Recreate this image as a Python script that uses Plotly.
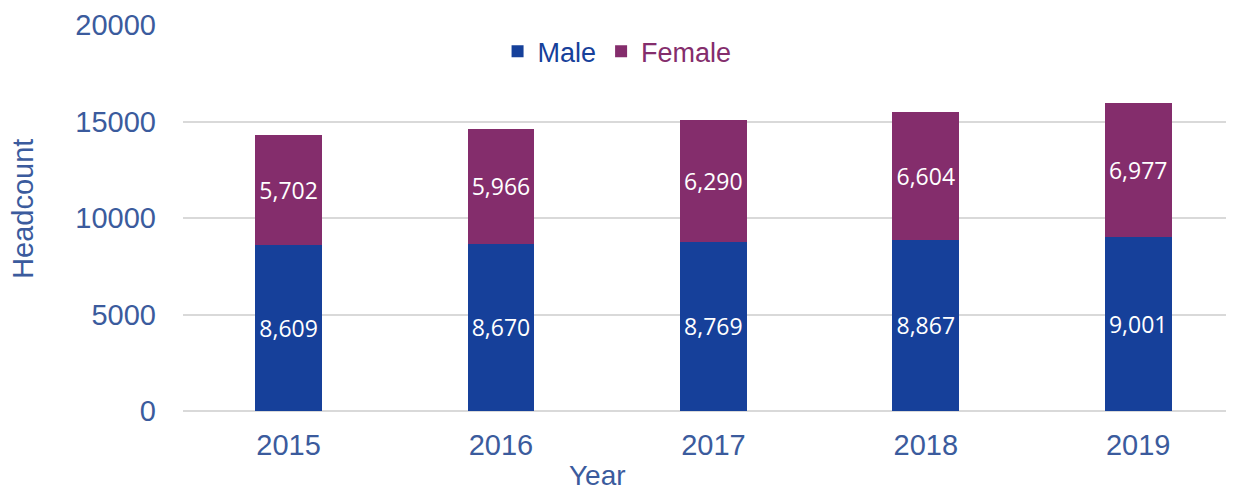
import plotly.graph_objects as go

years = ["2015", "2016", "2017", "2018", "2019"]
male = [8609, 8670, 8769, 8867, 9001]
female = [5702, 5966, 6290, 6604, 6977]
y_ticks = [0, 5000, 10000, 15000, 20000]

MALE_C = "#16409A"
FEMALE_C = "#842D6C"
AXIS_C = "#3B5B9D"
TICK_FONT = "Liberation Sans, Arial, sans-serif"
LABEL_FONT = "Open Sans, sans-serif"

fig = go.Figure()
fig.add_trace(go.Bar(
    x=years, y=male, name=f'<span style="color:{MALE_C}">Male</span>',
    marker=dict(color=MALE_C, line=dict(width=0)),
    text=[f"{v:,}" for v in male], textposition="inside", insidetextanchor="middle",
    textangle=0, constraintext="none",
    textfont=dict(color="white", size=23, family=LABEL_FONT),
    width=0.315,
))
fig.add_trace(go.Bar(
    x=years, y=female, name=f'<span style="color:{FEMALE_C}">Female</span>',
    marker=dict(color=FEMALE_C, line=dict(width=0)),
    text=[f"{v:,}" for v in female], textposition="inside", insidetextanchor="middle",
    textangle=0, constraintext="none",
    textfont=dict(color="white", size=23, family=LABEL_FONT),
    width=0.315,
))

PLOT_H = 411 - 25.3

fig.update_layout(
    barmode="stack",
    width=1226, height=484,
    margin=dict(l=175, r=0, t=17.3, b=81, autoexpand=False),
    paper_bgcolor="white", plot_bgcolor="white",
    showlegend=True,
    legend=dict(orientation="h", x=0.413, xanchor="center", y=0.931, yanchor="middle",
                traceorder="normal",
                font=dict(size=27, family=TICK_FONT, color=AXIS_C),
                bgcolor="rgba(0,0,0,0)", itemwidth=30, tracegroupgap=0),
    xaxis=dict(range=[-0.497, 4.451], showgrid=False, zeroline=False, showline=False,
               automargin=False,
               tickfont=dict(size=29, family=TICK_FONT, color=AXIS_C),
               ticks="", ticklabelstandoff=14),
    yaxis=dict(range=[0, 20000], tickvals=y_ticks, ticktext=[str(v) for v in y_ticks],
               automargin=False,
               showgrid=True, gridcolor="#D9D9D9", gridwidth=2,
               zeroline=True, zerolinecolor="#D9D9D9", zerolinewidth=2,
               showline=False, ticks="",
               tickfont=dict(size=29, family=TICK_FONT, color=AXIS_C),
               ticklabelstandoff=26),
    annotations=[
        dict(text="Headcount", xref="paper", yref="paper", x=(23 - 183) / 1051,
             y=(411 - 209) / PLOT_H, xanchor="center", yanchor="middle",
             textangle=-90, showarrow=False,
             font=dict(size=29, family=TICK_FONT, color=AXIS_C)),
        dict(text="Year", xref="paper", yref="paper", x=(597 - 183) / 1051,
             y=-(475 - 411) / PLOT_H, xanchor="center", yanchor="middle",
             showarrow=False,
             font=dict(size=28, family=TICK_FONT, color=AXIS_C)),
    ],
)

fig.write_html("out.html")
